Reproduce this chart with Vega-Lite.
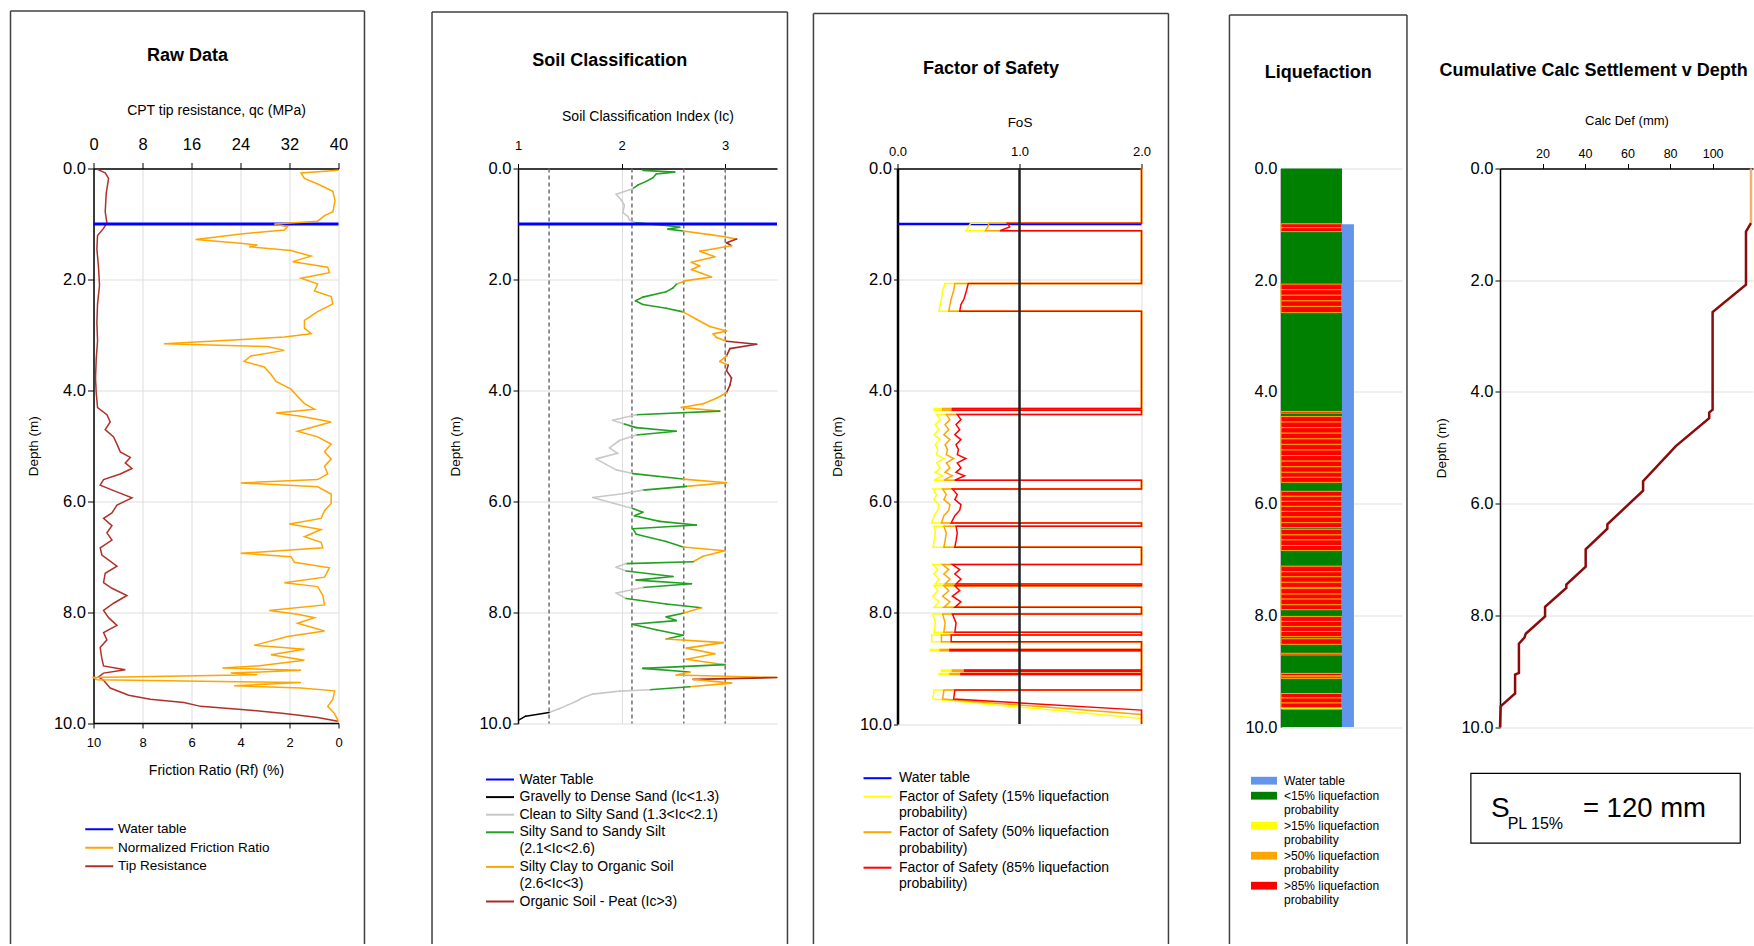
{
"$schema": "https://vega.github.io/schema/vega-lite/v6.json",
"padding": {"left": 9.5, "top": 9.5, "right": 0, "bottom": 0},
"background": "white",
"config": {
 "view": {"stroke": null},
 "font": "Liberation Sans",
 "axis": {"domainColor": "#000000", "tickColor": "#000000", "gridColor": "#dddddd", "labelColor": "#000000", "titleColor": "#000000", "titleFontWeight": "normal", "labelFlush": false, "labelOverlap": false, "domainWidth": 1.5, "tickWidth": 1},
 "legend": {"labelColor": "#000000", "padding": 0, "symbolStrokeWidth": 2, "labelLimit": 600, "symbolOffset": 0},
 "title": {"fontSize": 18, "fontWeight": "bold", "color": "#000000", "anchor": "middle", "frame": "bounds"}
},
"datasets": {
 "p1qc": [{"d":0.01,"qc":0.55},{"d":0.08,"qc":1.91},{"d":0.18,"qc":2.46},{"d":0.45,"qc":2.08},{"d":0.78,"qc":1.91},{"d":0.98,"qc":2.19},{"d":1.08,"qc":1.64},{"d":1.21,"qc":0.66},{"d":1.45,"qc":0.55},{"d":1.78,"qc":0.82},{"d":2.11,"qc":0.98},{"d":2.44,"qc":0.66},{"d":2.78,"qc":0.55},{"d":3.11,"qc":0.66},{"d":3.44,"qc":0.44},{"d":3.78,"qc":0.33},{"d":4.04,"qc":0.44},{"d":4.31,"qc":0.66},{"d":4.44,"qc":2.19},{"d":4.57,"qc":2.73},{"d":4.71,"qc":1.91},{"d":4.84,"qc":3.28},{"d":4.97,"qc":3.83},{"d":5.11,"qc":4.37},{"d":5.21,"qc":6.01},{"d":5.31,"qc":5.19},{"d":5.41,"qc":6.28},{"d":5.51,"qc":4.37},{"d":5.61,"qc":1.64},{"d":5.71,"qc":1.09},{"d":5.81,"qc":3.28},{"d":5.94,"qc":6.28},{"d":6.07,"qc":3.83},{"d":6.21,"qc":3.01},{"d":6.31,"qc":1.64},{"d":6.44,"qc":3.01},{"d":6.57,"qc":2.19},{"d":6.7,"qc":3.01},{"d":6.84,"qc":1.09},{"d":6.97,"qc":1.37},{"d":7.17,"qc":3.83},{"d":7.3,"qc":1.91},{"d":7.47,"qc":1.64},{"d":7.57,"qc":3.01},{"d":7.7,"qc":5.46},{"d":7.84,"qc":3.28},{"d":7.97,"qc":1.64},{"d":8.1,"qc":2.46},{"d":8.24,"qc":3.83},{"d":8.37,"qc":1.64},{"d":8.5,"qc":2.19},{"d":8.64,"qc":1.09},{"d":8.84,"qc":1.37},{"d":8.97,"qc":1.64},{"d":9.04,"qc":5.19},{"d":9.1,"qc":1.64},{"d":9.17,"qc":0.82},{"d":9.23,"qc":1.64},{"d":9.37,"qc":2.73},{"d":9.5,"qc":5.74},{"d":9.57,"qc":9.29},{"d":9.63,"qc":14.75},{"d":9.7,"qc":17.49},{"d":9.77,"qc":25.68},{"d":9.83,"qc":31.15},{"d":9.9,"qc":36.61},{"d":9.97,"qc":39.9}],
 "p1rf": [{"d":0.03,"rf":0},{"d":0.08,"rf":1.53},{"d":0.18,"rf":1.39},{"d":0.28,"rf":0.85},{"d":0.41,"rf":0.23},{"d":0.58,"rf":0.14},{"d":0.78,"rf":0.23},{"d":0.85,"rf":0.57},{"d":0.95,"rf":0.85},{"d":1.0,"rf":2.62},{"d":1.05,"rf":2.08},{"d":1.11,"rf":2.21},{"d":1.18,"rf":3.99},{"d":1.28,"rf":5.83},{"d":1.35,"rf":3.99},{"d":1.38,"rf":3.31},{"d":1.41,"rf":3.65},{"d":1.48,"rf":1.94},{"d":1.58,"rf":1.12},{"d":1.68,"rf":1.87},{"d":1.78,"rf":0.44},{"d":1.88,"rf":0.37},{"d":1.98,"rf":1.53},{"d":2.08,"rf":0.85},{"d":2.21,"rf":0.98},{"d":2.31,"rf":0.3},{"d":2.44,"rf":0.23},{"d":2.58,"rf":0.85},{"d":2.74,"rf":1.39},{"d":2.88,"rf":1.39},{"d":2.98,"rf":1.12},{"d":3.04,"rf":2.21},{"d":3.16,"rf":7.13},{"d":3.21,"rf":2.9},{"d":3.28,"rf":2.21},{"d":3.38,"rf":3.58},{"d":3.48,"rf":3.85},{"d":3.58,"rf":3.03},{"d":3.71,"rf":2.76},{"d":3.84,"rf":2.55},{"d":3.98,"rf":1.94},{"d":4.11,"rf":1.67},{"d":4.24,"rf":1.39},{"d":4.34,"rf":0.98},{"d":4.41,"rf":2.55},{"d":4.47,"rf":1.53},{"d":4.57,"rf":0.3},{"d":4.74,"rf":1.67},{"d":4.84,"rf":0.85},{"d":4.97,"rf":0.3},{"d":5.11,"rf":0.57},{"d":5.24,"rf":0.3},{"d":5.37,"rf":0.57},{"d":5.51,"rf":0.44},{"d":5.61,"rf":0.85},{"d":5.67,"rf":3.99},{"d":5.74,"rf":0.85},{"d":5.87,"rf":0.3},{"d":6.04,"rf":0.3},{"d":6.17,"rf":0.57},{"d":6.31,"rf":0.71},{"d":6.41,"rf":2.01},{"d":6.51,"rf":0.71},{"d":6.64,"rf":1.39},{"d":6.74,"rf":0.71},{"d":6.84,"rf":0.64},{"d":6.94,"rf":3.99},{"d":7.0,"rf":1.94},{"d":7.1,"rf":1.8},{"d":7.2,"rf":0.37},{"d":7.37,"rf":0.57},{"d":7.47,"rf":2.21},{"d":7.54,"rf":0.85},{"d":7.7,"rf":0.64},{"d":7.87,"rf":0.57},{"d":7.97,"rf":2.83},{"d":8.04,"rf":1.67},{"d":8.1,"rf":0.98},{"d":8.2,"rf":1.67},{"d":8.34,"rf":0.57},{"d":8.44,"rf":2.08},{"d":8.6,"rf":3.44},{"d":8.67,"rf":1.39},{"d":8.77,"rf":2.76},{"d":8.87,"rf":1.39},{"d":8.97,"rf":3.31},{"d":9.01,"rf":4.74},{"d":9.05,"rf":1.53},{"d":9.1,"rf":4.4},{"d":9.13,"rf":3.31},{"d":9.18,"rf":10},{"d":9.22,"rf":9.86},{"d":9.27,"rf":1.53},{"d":9.33,"rf":4.26},{"d":9.37,"rf":1.53},{"d":9.42,"rf":0.16},{"d":9.57,"rf":0.23},{"d":9.7,"rf":0.44},{"d":9.83,"rf":0.16},{"d":9.97,"rf":0}],
 "p2": [{"d":0.033,"ic":2.205,"c":"S"},{"d":0.066,"ic":2.512,"c":"S"},{"d":0.099,"ic":2.334,"c":"S"},{"d":0.166,"ic":2.302,"c":"S"},{"d":0.232,"ic":2.237,"c":"S"},{"d":0.298,"ic":2.157,"c":"S"},{"d":0.364,"ic":2.108,"c":"C"},{"d":0.464,"ic":1.947,"c":"C"},{"d":0.563,"ic":1.995,"c":"C"},{"d":0.662,"ic":2.027,"c":"C"},{"d":0.795,"ic":2.011,"c":"C"},{"d":0.861,"ic":2.06,"c":"C"},{"d":0.927,"ic":2.076,"c":"C"},{"d":0.98,"ic":2.141,"c":"S"},{"d":1.026,"ic":2.431,"c":"S"},{"d":1.06,"ic":2.561,"c":"S"},{"d":1.093,"ic":2.448,"c":"S"},{"d":1.126,"ic":2.593,"c":"O"},{"d":1.192,"ic":2.851,"c":"O"},{"d":1.225,"ic":2.981,"c":"O"},{"d":1.272,"ic":3.11,"c":"P"},{"d":1.338,"ic":3.013,"c":"P"},{"d":1.391,"ic":3.061,"c":"O"},{"d":1.49,"ic":2.754,"c":"O"},{"d":1.589,"ic":2.9,"c":"O"},{"d":1.689,"ic":2.674,"c":"O"},{"d":1.755,"ic":2.754,"c":"O"},{"d":1.821,"ic":2.674,"c":"O"},{"d":1.887,"ic":2.771,"c":"O"},{"d":1.954,"ic":2.868,"c":"O"},{"d":2.02,"ic":2.625,"c":"O"},{"d":2.086,"ic":2.528,"c":"S"},{"d":2.152,"ic":2.496,"c":"S"},{"d":2.219,"ic":2.431,"c":"S"},{"d":2.318,"ic":2.205,"c":"S"},{"d":2.384,"ic":2.134,"c":"S"},{"d":2.45,"ic":2.205,"c":"S"},{"d":2.517,"ic":2.431,"c":"S"},{"d":2.583,"ic":2.593,"c":"O"},{"d":2.715,"ic":2.722,"c":"O"},{"d":2.848,"ic":2.851,"c":"O"},{"d":2.927,"ic":3.013,"c":"O"},{"d":2.98,"ic":2.884,"c":"O"},{"d":3.046,"ic":2.916,"c":"O"},{"d":3.113,"ic":3.013,"c":"P"},{"d":3.166,"ic":3.304,"c":"P"},{"d":3.245,"ic":3.045,"c":"P"},{"d":3.377,"ic":3.013,"c":"O"},{"d":3.477,"ic":2.948,"c":"O"},{"d":3.543,"ic":3.029,"c":"P"},{"d":3.642,"ic":3.013,"c":"P"},{"d":3.775,"ic":3.061,"c":"P"},{"d":3.907,"ic":3.045,"c":"P"},{"d":4.04,"ic":3.013,"c":"O"},{"d":4.139,"ic":2.916,"c":"O"},{"d":4.238,"ic":2.787,"c":"O"},{"d":4.305,"ic":2.577,"c":"O"},{"d":4.371,"ic":2.948,"c":"S"},{"d":4.437,"ic":2.141,"c":"C"},{"d":4.536,"ic":1.914,"c":"C"},{"d":4.603,"ic":2.027,"c":"S"},{"d":4.669,"ic":2.141,"c":"S"},{"d":4.735,"ic":2.528,"c":"S"},{"d":4.801,"ic":2.141,"c":"C"},{"d":4.901,"ic":1.979,"c":"C"},{"d":5.033,"ic":1.882,"c":"C"},{"d":5.132,"ic":1.963,"c":"C"},{"d":5.232,"ic":1.753,"c":"C"},{"d":5.331,"ic":1.85,"c":"C"},{"d":5.43,"ic":1.947,"c":"C"},{"d":5.497,"ic":2.108,"c":"S"},{"d":5.596,"ic":2.593,"c":"O"},{"d":5.662,"ic":3.013,"c":"O"},{"d":5.728,"ic":2.625,"c":"S"},{"d":5.795,"ic":2.205,"c":"C"},{"d":5.861,"ic":2.011,"c":"C"},{"d":5.927,"ic":1.721,"c":"C"},{"d":6.026,"ic":1.914,"c":"C"},{"d":6.126,"ic":2.108,"c":"S"},{"d":6.192,"ic":2.205,"c":"S"},{"d":6.258,"ic":2.124,"c":"S"},{"d":6.358,"ic":2.367,"c":"S"},{"d":6.424,"ic":2.722,"c":"S"},{"d":6.49,"ic":2.108,"c":"S"},{"d":6.589,"ic":2.141,"c":"S"},{"d":6.722,"ic":2.431,"c":"S"},{"d":6.821,"ic":2.593,"c":"O"},{"d":6.887,"ic":2.997,"c":"O"},{"d":6.987,"ic":2.787,"c":"O"},{"d":7.086,"ic":2.69,"c":"S"},{"d":7.119,"ic":2.044,"c":"C"},{"d":7.185,"ic":1.947,"c":"C"},{"d":7.252,"ic":2.044,"c":"S"},{"d":7.351,"ic":2.496,"c":"S"},{"d":7.417,"ic":2.141,"c":"S"},{"d":7.483,"ic":2.674,"c":"S"},{"d":7.55,"ic":2.205,"c":"C"},{"d":7.649,"ic":1.947,"c":"C"},{"d":7.748,"ic":2.044,"c":"S"},{"d":7.848,"ic":2.431,"c":"S"},{"d":7.914,"ic":2.771,"c":"O"},{"d":8.013,"ic":2.593,"c":"S"},{"d":8.079,"ic":2.431,"c":"S"},{"d":8.146,"ic":2.528,"c":"S"},{"d":8.212,"ic":2.1,"c":"S"},{"d":8.311,"ic":2.334,"c":"S"},{"d":8.411,"ic":2.593,"c":"S"},{"d":8.477,"ic":2.431,"c":"O"},{"d":8.543,"ic":2.981,"c":"O"},{"d":8.642,"ic":2.625,"c":"O"},{"d":8.742,"ic":2.9,"c":"O"},{"d":8.841,"ic":2.625,"c":"O"},{"d":8.94,"ic":2.997,"c":"S"},{"d":9.007,"ic":2.205,"c":"S"},{"d":9.073,"ic":2.658,"c":"O"},{"d":9.126,"ic":2.528,"c":"O"},{"d":9.172,"ic":3.498,"c":"P"},{"d":9.205,"ic":2.69,"c":"O"},{"d":9.272,"ic":3.061,"c":"O"},{"d":9.338,"ic":2.658,"c":"S"},{"d":9.391,"ic":2.27,"c":"C"},{"d":9.417,"ic":1.979,"c":"C"},{"d":9.47,"ic":1.721,"c":"C"},{"d":9.536,"ic":1.624,"c":"C"},{"d":9.603,"ic":1.559,"c":"C"},{"d":9.669,"ic":1.478,"c":"C"},{"d":9.735,"ic":1.397,"c":"C"},{"d":9.801,"ic":1.3,"c":"G"},{"d":9.868,"ic":1.074,"c":"G"},{"d":9.934,"ic":1.01,"c":"G"}],
 "p3": [{"d":0,"a":2,"b":2,"c":2},{"d":0.985,"a":2,"b":2,"c":2},{"d":0.985,"a":0.6,"b":0.75,"c":0.9},{"d":1.05,"a":0.58,"b":0.74,"c":0.92},{"d":1.12,"a":0.56,"b":0.72,"c":0.84},{"d":1.12,"a":2,"b":2,"c":2},{"d":2.07,"a":2,"b":2,"c":2},{"d":2.07,"a":0.39,"b":0.47,"c":0.58},{"d":2.2,"a":0.37,"b":0.46,"c":0.565},{"d":2.35,"a":0.36,"b":0.44,"c":0.545},{"d":2.45,"a":0.35,"b":0.43,"c":0.52},{"d":2.57,"a":0.34,"b":0.42,"c":0.51},{"d":2.57,"a":2,"b":2,"c":2},{"d":4.32,"a":2,"b":2,"c":2},{"d":4.32,"a":0.3,"b":0.37,"c":0.45},{"d":4.35,"a":0.3,"b":0.37,"c":0.45},{"d":4.35,"a":2,"b":2,"c":2},{"d":4.43,"a":2,"b":2,"c":2},{"d":4.43,"a":0.32,"b":0.4,"c":0.49},{"d":4.52,"a":0.35,"b":0.43,"c":0.52},{"d":4.61,"a":0.31,"b":0.39,"c":0.48},{"d":4.7,"a":0.34,"b":0.42,"c":0.51},{"d":4.79,"a":0.3,"b":0.38,"c":0.47},{"d":4.88,"a":0.35,"b":0.43,"c":0.52},{"d":4.97,"a":0.31,"b":0.39,"c":0.48},{"d":5.06,"a":0.33,"b":0.41,"c":0.5},{"d":5.15,"a":0.32,"b":0.4,"c":0.49},{"d":5.22,"a":0.38,"b":0.46,"c":0.56},{"d":5.3,"a":0.32,"b":0.4,"c":0.49},{"d":5.39,"a":0.35,"b":0.43,"c":0.52},{"d":5.47,"a":0.31,"b":0.39,"c":0.48},{"d":5.53,"a":0.37,"b":0.45,"c":0.55},{"d":5.61,"a":0.3,"b":0.38,"c":0.47},{"d":5.61,"a":2,"b":2,"c":2},{"d":5.77,"a":2,"b":2,"c":2},{"d":5.77,"a":0.29,"b":0.37,"c":0.45},{"d":5.87,"a":0.32,"b":0.4,"c":0.49},{"d":5.96,"a":0.3,"b":0.38,"c":0.47},{"d":6.05,"a":0.34,"b":0.43,"c":0.52},{"d":6.15,"a":0.33,"b":0.42,"c":0.51},{"d":6.25,"a":0.3,"b":0.38,"c":0.47},{"d":6.38,"a":0.28,"b":0.36,"c":0.44},{"d":6.38,"a":2,"b":2,"c":2},{"d":6.44,"a":2,"b":2,"c":2},{"d":6.44,"a":0.3,"b":0.38,"c":0.48},{"d":6.56,"a":0.31,"b":0.4,"c":0.49},{"d":6.7,"a":0.3,"b":0.39,"c":0.48},{"d":6.82,"a":0.29,"b":0.38,"c":0.47},{"d":6.82,"a":2,"b":2,"c":2},{"d":7.13,"a":2,"b":2,"c":2},{"d":7.13,"a":0.29,"b":0.37,"c":0.45},{"d":7.22,"a":0.33,"b":0.42,"c":0.51},{"d":7.3,"a":0.3,"b":0.38,"c":0.47},{"d":7.39,"a":0.34,"b":0.43,"c":0.52},{"d":7.48,"a":0.31,"b":0.39,"c":0.48},{"d":7.48,"a":2,"b":2,"c":2},{"d":7.51,"a":2,"b":2,"c":2},{"d":7.51,"a":0.3,"b":0.38,"c":0.47},{"d":7.6,"a":0.33,"b":0.42,"c":0.51},{"d":7.7,"a":0.29,"b":0.37,"c":0.45},{"d":7.8,"a":0.34,"b":0.43,"c":0.52},{"d":7.9,"a":0.3,"b":0.38,"c":0.47},{"d":7.9,"a":2,"b":2,"c":2},{"d":8.02,"a":2,"b":2,"c":2},{"d":8.02,"a":0.29,"b":0.37,"c":0.45},{"d":8.18,"a":0.31,"b":0.39,"c":0.48},{"d":8.35,"a":0.3,"b":0.38,"c":0.47},{"d":8.35,"a":2,"b":2,"c":2},{"d":8.4,"a":2,"b":2,"c":2},{"d":8.4,"a":0.28,"b":0.36,"c":0.44},{"d":8.52,"a":0.28,"b":0.36,"c":0.44},{"d":8.52,"a":2,"b":2,"c":2},{"d":8.66,"a":2,"b":2,"c":2},{"d":8.66,"a":0.27,"b":0.35,"c":0.43},{"d":8.68,"a":0.27,"b":0.35,"c":0.43},{"d":8.68,"a":2,"b":2,"c":2},{"d":9.03,"a":2,"b":2,"c":2},{"d":9.03,"a":0.36,"b":0.45,"c":0.55},{"d":9.05,"a":0.36,"b":0.45,"c":0.55},{"d":9.05,"a":2,"b":2,"c":2},{"d":9.09,"a":2,"b":2,"c":2},{"d":9.09,"a":0.34,"b":0.43,"c":0.52},{"d":9.11,"a":0.34,"b":0.43,"c":0.52},{"d":9.11,"a":2,"b":2,"c":2},{"d":9.39,"a":2,"b":2,"c":2},{"d":9.39,"a":0.3,"b":0.38,"c":0.47},{"d":9.55,"a":0.29,"b":0.37,"c":0.46},{"d":9.75,"a":1.27,"b":1.53,"c":2},{"d":9.83,"a":1.66,"b":2,"c":2},{"d":9.9,"a":2,"b":2,"c":2},{"d":10,"a":2,"b":2,"c":2}],
 "p4": [{"d1":0,"d2":0.99,"c":"g"},{"d1":1.13,"d2":2.07,"c":"g"},{"d1":2.58,"d2":4.35,"c":"g"},{"d1":4.38,"d2":4.44,"c":"g"},{"d1":5.62,"d2":5.78,"c":"g"},{"d1":6.43,"d2":6.46,"c":"g"},{"d1":6.84,"d2":7.12,"c":"g"},{"d1":7.5,"d2":7.52,"c":"g"},{"d1":7.9,"d2":8.02,"c":"g"},{"d1":8.38,"d2":8.42,"c":"g"},{"d1":8.52,"d2":8.68,"c":"g"},{"d1":8.71,"d2":9.04,"c":"g"},{"d1":9.08,"d2":9.1,"c":"g"},{"d1":9.13,"d2":9.4,"c":"g"},{"d1":9.68,"d2":10,"c":"g"},{"d1":9.65,"d2":9.68,"c":"y"},
  {"d1":0.99,"d2":1.06,"c":"r"},{"d1":1.06,"d2":1.13,"c":"r"},{"d1":2.07,"d2":2.17,"c":"r"},{"d1":2.17,"d2":2.27,"c":"r"},{"d1":2.27,"d2":2.37,"c":"r"},{"d1":2.37,"d2":2.47,"c":"r"},{"d1":2.47,"d2":2.58,"c":"r"},{"d1":4.35,"d2":4.38,"c":"r"},{"d1":4.44,"d2":4.54,"c":"r"},{"d1":4.54,"d2":4.64,"c":"r"},{"d1":4.64,"d2":4.74,"c":"r"},{"d1":4.74,"d2":4.84,"c":"r"},{"d1":4.84,"d2":4.94,"c":"r"},{"d1":4.94,"d2":5.04,"c":"r"},{"d1":5.04,"d2":5.14,"c":"r"},{"d1":5.14,"d2":5.24,"c":"r"},{"d1":5.24,"d2":5.34,"c":"r"},{"d1":5.34,"d2":5.44,"c":"r"},{"d1":5.44,"d2":5.53,"c":"r"},{"d1":5.53,"d2":5.62,"c":"r"},{"d1":5.78,"d2":5.87,"c":"r"},{"d1":5.87,"d2":5.96,"c":"r"},{"d1":5.96,"d2":6.05,"c":"r"},{"d1":6.05,"d2":6.14,"c":"r"},{"d1":6.14,"d2":6.24,"c":"r"},{"d1":6.24,"d2":6.34,"c":"r"},{"d1":6.34,"d2":6.43,"c":"r"},{"d1":6.46,"d2":6.56,"c":"r"},{"d1":6.56,"d2":6.65,"c":"r"},{"d1":6.65,"d2":6.75,"c":"r"},{"d1":6.75,"d2":6.84,"c":"r"},{"d1":7.12,"d2":7.22,"c":"r"},{"d1":7.22,"d2":7.31,"c":"r"},{"d1":7.31,"d2":7.41,"c":"r"},{"d1":7.41,"d2":7.5,"c":"r"},{"d1":7.52,"d2":7.62,"c":"r"},{"d1":7.62,"d2":7.71,"c":"r"},{"d1":7.71,"d2":7.81,"c":"r"},{"d1":7.81,"d2":7.9,"c":"r"},{"d1":8.02,"d2":8.11,"c":"r"},{"d1":8.11,"d2":8.2,"c":"r"},{"d1":8.2,"d2":8.29,"c":"r"},{"d1":8.29,"d2":8.38,"c":"r"},{"d1":8.42,"d2":8.52,"c":"r"},{"d1":8.68,"d2":8.71,"c":"r"},{"d1":9.04,"d2":9.08,"c":"r"},{"d1":9.1,"d2":9.13,"c":"r"},{"d1":9.4,"d2":9.48,"c":"r"},{"d1":9.48,"d2":9.57,"c":"r"},{"d1":9.57,"d2":9.65,"c":"r"}],
 "p5": [{"d":0,"mm":118.05,"s":"top"},{"d":0.98,"mm":118.05,"s":"top"},{"d":0.98,"mm":118.05,"s":"main"},{"d":1.13,"mm":115.7,"s":"main"},{"d":2.08,"mm":115.7,"s":"main"},{"d":2.57,"mm":100,"s":"main"},{"d":4.32,"mm":100,"s":"main"},{"d":4.37,"mm":98.4,"s":"main"},{"d":4.47,"mm":98.4,"s":"main"},{"d":4.97,"mm":82.7,"s":"main"},{"d":5.6,"mm":67.3,"s":"main"},{"d":5.77,"mm":67.3,"s":"main"},{"d":6.37,"mm":50.5,"s":"main"},{"d":6.45,"mm":50.5,"s":"main"},{"d":6.82,"mm":40.3,"s":"main"},{"d":7.13,"mm":40.3,"s":"main"},{"d":7.45,"mm":31.2,"s":"main"},{"d":7.51,"mm":31.2,"s":"main"},{"d":7.85,"mm":21.2,"s":"main"},{"d":8.02,"mm":21.2,"s":"main"},{"d":8.33,"mm":12.1,"s":"main"},{"d":8.4,"mm":11.5,"s":"main"},{"d":8.51,"mm":8.9,"s":"main"},{"d":9.03,"mm":8.9,"s":"main"},{"d":9.06,"mm":7.1,"s":"main"},{"d":9.4,"mm":7.1,"s":"main"},{"d":9.63,"mm":0.3,"s":"main"},{"d":10,"mm":0,"s":"main"}]
},
"spacing": 65.5,
"align": "none",
"resolve": {"scale": {"color": "independent"}},
"concat": [
 {
  "width": 245, "height": 554.5,
  "title": {"text": "Raw Data", "offset": -55},
  "resolve": {"scale": {"x": "independent"}},
  "layer": [
   {"layer": [
    {"data": {"values": [{}]}, "mark": {"type": "rule", "color": "#404040", "strokeWidth": 1.5}, "encoding": {"x": {"datum": -13.55}, "y": {"datum": -2.84}, "y2": {"datum": 13.985}}},
    {"data": {"values": [{}]}, "mark": {"type": "rule", "color": "#404040", "strokeWidth": 1.5}, "encoding": {"x": {"datum": 44.24}, "y": {"datum": -2.84}, "y2": {"datum": 13.985}}},
    {"data": {"values": [{}]}, "mark": {"type": "rule", "color": "#404040", "strokeWidth": 1.5}, "encoding": {"x": {"datum": -13.55}, "x2": {"datum": 44.24}, "y": {"datum": -2.84}}},
    {"data": {"name": "p1qc"}, "mark": {"type": "line", "strokeWidth": 1.5},
     "encoding": {
      "x": {"field": "qc", "type": "quantitative", "scale": {"domain": [0, 40], "nice": false, "zero": false}, "axis": {"orient": "top", "values": [0, 8, 16, 24, 32, 40], "title": "CPT tip resistance, qc (MPa)", "labelFontSize": 16.5, "tickSize": 6, "labelPadding": 9.8, "titleFontSize": 14, "titlePadding": 19.5, "grid": true}},
      "y": {"field": "d", "type": "quantitative", "scale": {"domain": [0, 10], "reverse": true, "nice": false, "zero": false}, "axis": {"values": [0, 2, 4, 6, 8, 10], "format": ".1f", "title": "Depth (m)", "labelFontSize": 16.5, "tickSize": 6, "labelPadding": 2, "titleFontSize": 13.5, "titlePadding": 13, "grid": true}},
      "color": {"datum": "T"},
      "order": {"value": null}}},
    {"data": {"values": [{}]}, "mark": {"type": "rule", "strokeWidth": 3},
     "encoding": {"y": {"datum": 1},
      "color": {"datum": "W", "scale": {"domain": ["W", "N", "T"], "range": ["#0000FF", "#FFA500", "#B0302A"]},
       "legend": {"orient": "none", "legendX": -1, "legendY": 654, "title": null, "labelFontSize": 13.5, "symbolType": "M-3,0H3", "symbolSize": 87, "symbolStrokeWidth": 2, "labelOffset": 12, "rowPadding": 3.5,
        "labelExpr": "datum.label == 'W' ? 'Water table' : datum.label == 'N' ? 'Normalized Friction Ratio' : 'Tip Resistance'"}}}}
   ]},
   {"layer": [
    {"data": {"name": "p1rf"}, "mark": {"type": "line", "strokeWidth": 1.5},
     "encoding": {
      "x": {"field": "rf", "type": "quantitative", "scale": {"domain": [0, 10], "reverse": true, "nice": false, "zero": false}, "axis": {"orient": "bottom", "values": [0, 2, 4, 6, 8, 10], "title": "Friction Ratio (Rf) (%)", "labelFontSize": 13, "tickSize": 5, "labelPadding": 8.2, "titleFontSize": 14, "titlePadding": 14.2, "grid": false}},
      "y": {"field": "d", "type": "quantitative"},
      "color": {"datum": "N"},
      "order": {"value": null}}}
   ]}
  ]
 },
 {
  "spacing": 23.5,
  "align": "none",
  "resolve": {"scale": {"color": "independent"}},
  "concat": [
   {
    "width": 259, "height": 555,
    "title": {"text": "Soil Classification", "offset": -58.3},
    "layer": [
     {"data": {"values": [{}]}, "mark": {"type": "rule", "color": "#404040", "strokeWidth": 1.5}, "encoding": {"x": {"datum": 0.17}, "y": {"datum": -2.82}, "y2": {"datum": 13.973}}},
     {"data": {"values": [{}]}, "mark": {"type": "rule", "color": "#404040", "strokeWidth": 1.5}, "encoding": {"x": {"datum": 3.601}, "y": {"datum": -2.82}, "y2": {"datum": 13.973}}},
     {"data": {"values": [{}]}, "mark": {"type": "rule", "color": "#404040", "strokeWidth": 1.5}, "encoding": {"x": {"datum": 0.17}, "x2": {"datum": 3.601}, "y": {"datum": -2.82}}},
     {"data": {"values": [{"ic": 1.3}, {"ic": 2.1}, {"ic": 2.6}, {"ic": 3.0}]}, "mark": {"type": "rule", "color": "#707070", "strokeWidth": 1.5, "strokeDash": [4, 3]}, "encoding": {"x": {"field": "ic", "type": "quantitative"}}},
     {"data": {"name": "p2"},
      "transform": [{"window": [{"op": "lead", "field": "d", "as": "d2"}, {"op": "lead", "field": "ic", "as": "ic2"}], "sort": [{"field": "d", "order": "ascending"}]}, {"filter": "isValid(datum.d2)"}],
      "mark": {"type": "rule", "strokeWidth": 1.6, "strokeCap": "round"},
      "encoding": {
       "x": {"field": "ic", "type": "quantitative", "scale": {"domain": [1, 3.5], "nice": false, "zero": false}, "axis": {"orient": "top", "values": [1, 2, 3], "format": "d", "title": "Soil Classification Index (Ic)", "labelFontSize": 13, "tickSize": 5, "labelPadding": 10.9, "titleFontSize": 14, "titlePadding": 16.5, "grid": true}},
       "x2": {"field": "ic2"},
       "y": {"field": "d", "type": "quantitative", "scale": {"domain": [0, 10], "reverse": true, "nice": false, "zero": false}, "axis": {"values": [0, 2, 4, 6, 8, 10], "format": ".1f", "title": "Depth (m)", "labelFontSize": 16.5, "tickSize": 5, "labelPadding": 2, "titleFontSize": 13.5, "titlePadding": 16, "grid": true}},
       "y2": {"field": "d2"},
       "color": {"field": "c", "type": "nominal", "scale": {"domain": ["W", "G", "C", "S", "O", "P"], "range": ["#0000FF", "#000000", "#C8C8C8", "#22A022", "#FFA500", "#A52A2A"]},
        "legend": {"orient": "none", "legendX": -25, "legendY": 604, "title": null, "labelFontSize": 14, "symbolType": "M-3,0H3", "symbolSize": 87, "symbolStrokeWidth": 2, "labelOffset": 12.5, "rowPadding": 3.6,
         "encode": {"labels": {"update": {"lineHeight": {"value": 16.8}}}},
         "labelExpr": "datum.label == 'W' ? 'Water Table' : datum.label == 'G' ? 'Gravelly to Dense Sand (Ic<1.3)' : datum.label == 'C' ? 'Clean to Silty Sand (1.3<Ic<2.1)' : datum.label == 'S' ? ['Silty Sand to Sandy Silt', '(2.1<Ic<2.6)'] : datum.label == 'O' ? ['Silty Clay to Organic Soil', '(2.6<Ic<3)'] : 'Organic Soil - Peat (Ic>3)'"}}}},
     {"data": {"values": [{}]}, "mark": {"type": "rule", "strokeWidth": 3}, "encoding": {"y": {"datum": 1}, "color": {"datum": "W"}}}
    ]
   },
   {
    "spacing": 58.5,
    "align": "none",
    "resolve": {"scale": {"color": "independent"}},
    "concat": [
     {
      "width": 244, "height": 555.5,
      "title": {"text": "Factor of Safety", "offset": -65.6},
      "layer": [
       {"data": {"values": [{}]}, "mark": {"type": "rule", "color": "#404040", "strokeWidth": 1.5}, "encoding": {"x": {"datum": -0.689}, "y": {"datum": -2.792}, "y2": {"datum": 13.96}}},
       {"data": {"values": [{}]}, "mark": {"type": "rule", "color": "#404040", "strokeWidth": 1.5}, "encoding": {"x": {"datum": 2.221}, "y": {"datum": -2.792}, "y2": {"datum": 13.96}}},
       {"data": {"values": [{}]}, "mark": {"type": "rule", "color": "#404040", "strokeWidth": 1.5}, "encoding": {"x": {"datum": -0.689}, "x2": {"datum": 2.221}, "y": {"datum": -2.792}}},
       {"data": {"values": [{}]}, "mark": {"type": "rule", "strokeWidth": 2.5}, "encoding": {"y": {"datum": 1}, "color": {"datum": "W"}}},
       {"data": {"name": "p3"},
        "transform": [{"fold": ["a", "b", "c"], "as": ["s", "v"]}],
        "mark": {"type": "line", "strokeWidth": 1.5},
        "encoding": {
         "x": {"field": "v", "type": "quantitative", "scale": {"domain": [0, 2], "nice": false, "zero": false}, "axis": {"orient": "top", "values": [0, 1, 2], "format": ".1f", "title": "FoS", "labelFontSize": 13, "tickSize": 5, "labelPadding": 5.3, "titleFontSize": 13.5, "titlePadding": 15.4, "grid": true}},
         "y": {"field": "d", "type": "quantitative", "scale": {"domain": [0, 10], "reverse": true, "nice": false, "zero": false}, "axis": {"values": [0, 2, 4, 6, 8, 10], "format": ".1f", "title": "Depth (m)", "labelFontSize": 16.5, "tickSize": 4, "labelPadding": 2, "titleFontSize": 13.5, "titlePadding": 15, "grid": true, "domainWidth": 2.5}},
         "color": {"field": "s", "type": "nominal", "scale": {"domain": ["W", "a", "b", "c"], "range": ["#0000FF", "#FFFF00", "#FFA500", "#FF0000"]},
          "legend": {"orient": "none", "legendX": -27, "legendY": 602.7, "title": null, "labelFontSize": 14, "symbolType": "M-3,0H3", "symbolSize": 87, "symbolStrokeWidth": 2, "labelOffset": 14.5, "rowPadding": 4.5,
           "encode": {"labels": {"update": {"lineHeight": {"value": 16.8}}}},
           "labelExpr": "datum.label == 'W' ? 'Water table' : datum.label == 'a' ? ['Factor of Safety (15% liquefaction', 'probability)'] : datum.label == 'b' ? ['Factor of Safety (50% liquefaction', 'probability)'] : ['Factor of Safety (85% liquefaction', 'probability)']"}},
         "order": {"value": null}}},
       {"data": {"values": [{}]}, "mark": {"type": "rule", "color": "#202020", "strokeWidth": 2.5}, "encoding": {"x": {"datum": 1}}}
      ]
     },
     {
      "spacing": 23,
      "align": "none",
      "resolve": {"scale": {"color": "independent"}},
      "concat": [
       {
        "width": 121, "height": 558.5,
        "title": {"text": "Liquefaction", "offset": -67.5},
        "layer": [
         {"data": {"values": [{}]}, "mark": {"type": "rule", "color": "#404040", "strokeWidth": 1.5}, "encoding": {"x": {"datum": -0.426, "scale": {"domain": [0, 1], "nice": false, "zero": false}, "axis": null}, "y": {"datum": -2.748}, "y2": {"datum": 13.885}}},
         {"data": {"values": [{}]}, "mark": {"type": "rule", "color": "#404040", "strokeWidth": 1.5}, "encoding": {"x": {"datum": 1.041, "axis": null}, "y": {"datum": -2.748}, "y2": {"datum": 13.885}}},
         {"data": {"values": [{}]}, "mark": {"type": "rule", "color": "#404040", "strokeWidth": 1.5}, "encoding": {"x": {"datum": -0.426, "axis": null}, "x2": {"datum": 1.041}, "y": {"datum": -2.748}}},
         {"data": {"name": "p4"}, "transform": [{"filter": "datum.c != 'r'"}], "mark": {"type": "rect"},
          "encoding": {
           "x": {"datum": 0, "axis": null}, "x2": {"datum": 0.504},
           "y": {"field": "d1", "type": "quantitative", "scale": {"domain": [0, 10], "reverse": true, "nice": false, "zero": false}, "axis": {"values": [0, 2, 4, 6, 8, 10], "format": ".1f", "title": null, "labelFontSize": 16.5, "ticks": false, "labelPadding": 4, "grid": true}},
           "y2": {"field": "d2"},
           "color": {"field": "c", "type": "nominal", "scale": {"domain": ["W", "g", "y", "o", "r"], "range": ["#6495ED", "#008000", "#FFFF00", "#FFA500", "#FF0000"]},
            "legend": {"orient": "none", "legendX": -23, "legendY": 606.2, "title": null, "labelFontSize": 12, "symbolType": "M-3,-0.9H3V0.9H-3Z", "symbolSize": 75, "symbolStrokeWidth": 0, "labelOffset": 14, "rowPadding": 3,
             "encode": {"labels": {"update": {"lineHeight": {"value": 14.5}}}},
             "labelExpr": "datum.label == 'W' ? 'Water table' : datum.label == 'g' ? ['<15% liquefaction', 'probability'] : datum.label == 'y' ? ['>15% liquefaction', 'probability'] : datum.label == 'o' ? ['>50% liquefaction', 'probability'] : ['>85% liquefaction', 'probability']"}}}},
         {"data": {"name": "p4"}, "transform": [{"filter": "datum.c == 'r'"}], "mark": {"type": "rect", "stroke": "#FFA500", "strokeWidth": 1},
          "encoding": {"x": {"datum": 0, "axis": null}, "x2": {"datum": 0.504}, "y": {"field": "d1", "type": "quantitative"}, "y2": {"field": "d2"}, "color": {"field": "c", "type": "nominal"}}},
         {"data": {"values": [{}]}, "mark": {"type": "rect"}, "encoding": {"x": {"datum": 0.504, "axis": null}, "x2": {"datum": 0.603}, "y": {"datum": 1}, "y2": {"datum": 10}, "color": {"datum": "W"}}}
        ]
       },
       {
        "width": 253, "height": 558.5,
        "title": {"text": "Cumulative Calc Settlement v Depth", "offset": -70},
        "layer": [
         {"data": {"values": [{}]}, "mark": {"type": "rule", "color": "#FFFFFF", "strokeWidth": 1.5}, "encoding": {"x": {"datum": -32}, "y": {"datum": -2.82}, "y2": {"datum": 0}}},
         {"data": {"name": "p5"}, "mark": {"type": "line", "strokeWidth": 2.5},
          "encoding": {
           "x": {"field": "mm", "type": "quantitative", "scale": {"domain": [0, 119], "nice": false, "zero": false}, "axis": {"orient": "top", "values": [20, 40, 60, 80, 100], "title": "Calc Def (mm)", "labelFontSize": 12.5, "tickSize": 5, "labelPadding": 3.5, "titleFontSize": 13, "titlePadding": 19.6, "grid": false}},
           "y": {"field": "d", "type": "quantitative", "scale": {"domain": [0, 10], "reverse": true, "nice": false, "zero": false}, "axis": {"values": [0, 2, 4, 6, 8, 10], "format": ".1f", "title": "Depth (m)", "labelFontSize": 16.5, "tickSize": 5, "labelPadding": 2, "titleFontSize": 13.5, "titlePadding": 12, "grid": true}},
           "color": {"field": "s", "type": "nominal", "scale": {"domain": ["top", "main"], "range": ["#F5B070", "#8B0A0A"]}, "legend": null},
           "order": {"value": null}}},
         {"data": {"values": [{}]}, "mark": {"type": "rect", "filled": false, "color": "#000000", "strokeWidth": 1.2}, "encoding": {"x": {"datum": -13.7}, "x2": {"datum": 113.0}, "y": {"datum": 10.83}, "y2": {"datum": 12.08}}},
         {"data": {"values": [{}]}, "mark": {"type": "text", "text": "S", "fontSize": 28, "align": "left", "baseline": "alphabetic", "color": "#000000"}, "encoding": {"x": {"datum": -4.2}, "y": {"datum": 11.62}}},
         {"data": {"values": [{}]}, "mark": {"type": "text", "text": "PL 15%", "fontSize": 16, "align": "left", "baseline": "alphabetic", "color": "#000000"}, "encoding": {"x": {"datum": 3.6}, "y": {"datum": 11.83}}},
         {"data": {"values": [{}]}, "mark": {"type": "text", "text": "= 120 mm", "fontSize": 27.5, "align": "left", "baseline": "alphabetic", "color": "#000000"}, "encoding": {"x": {"datum": 39}, "y": {"datum": 11.62}}}
        ]
       }
      ]
     }
    ]
   }
  ]
 }
]
}
